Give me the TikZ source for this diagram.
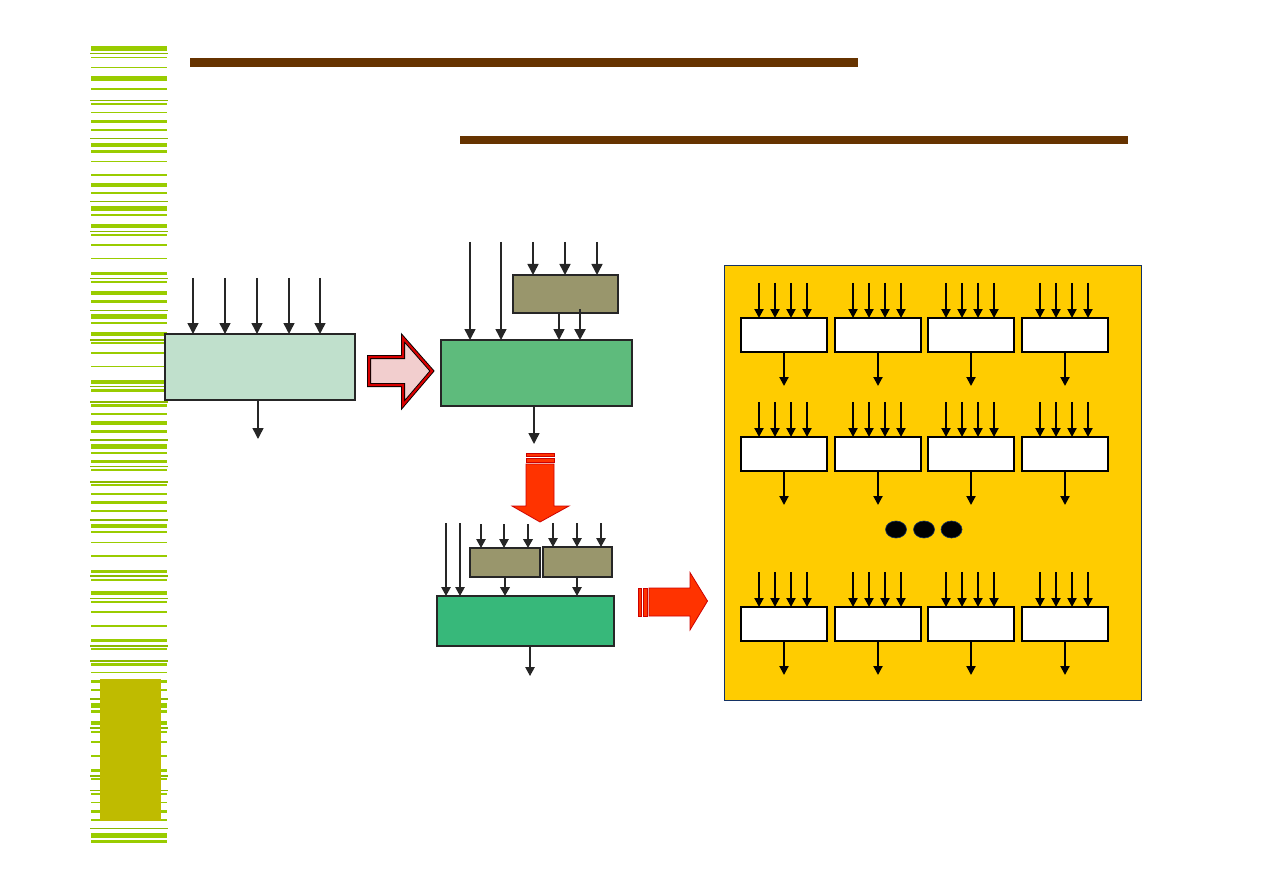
\documentclass[tikz,border=0pt]{standalone}
\usetikzlibrary{arrows.meta}

\definecolor{stripeGreen}{RGB}{153,204,0}
\definecolor{barOlive}{RGB}{191,187,0}
\definecolor{barBrown}{RGB}{102,51,0}
\definecolor{fillA}{RGB}{192,224,204}
\definecolor{fillB}{RGB}{94,187,124}
\definecolor{fillC}{RGB}{55,184,122}
\definecolor{khaki}{RGB}{153,150,108}
\definecolor{hotRed}{RGB}{255,51,0}
\definecolor{paleRed}{RGB}{242,206,206}
\definecolor{panelYellow}{RGB}{255,204,0}
\definecolor{panelBlue}{RGB}{20,50,100}

\tikzset{
  blk/.style={draw=black!85, line width=2pt, inner sep=0pt, outer sep=0pt, anchor=north west},
  cell/.style={draw=black, fill=white, line width=2.5pt, inner sep=0pt, outer sep=0pt, anchor=north west,
    minimum width=86pt, minimum height=34pt},
  arr/.style={-{Triangle[length=11pt,width=11pt]}, line width=1.5pt, draw=black!85},
  arrs/.style={-{Triangle[length=9pt,width=9.5pt]}, line width=1.2pt, draw=black!85},
  arry/.style={-{Triangle[length=9pt,width=9pt]}, line width=2pt, draw=black},
}

\begin{document}
\begin{tikzpicture}[x=1pt, y=-1pt]
    \useasboundingbox (0,0) rectangle (1263,893);

    % Side stripes
    \foreach \ya/\h in {46/5, 57/1.2, 67/1.2, 76/4.7, 88.3/1.5, 102.7/2, 112/1.2, 120/2.7, 129.3/1.5,
        143/3.7, 150/2.7, 161.3/1.2, 174.3/1.7, 183.3/3.4, 192.3/1.7, 206/4.7, 214/1.7, 224/3.7,
        234/2, 244/1.7, 258.3/1.2, 272/2.7, 281/1.7, 291/3.7, 300/2.7, 314/4.7, 322/1.7, 332/3.7,
        342/1.7, 352/1.7, 366/1.2, 380/3.7, 389.3/2.4, 404/2.7, 413/1.7, 421/3.7, 430.3/2.4,
        444/4.7, 452/1.7, 460/2.7, 469/1.7, 484/1.7, 493.3/1.2, 501/2.7, 510/1.7, 524/3.7,
        531/1.7, 542/1.2, 555.3/1.4, 570/3, 579/1.7, 591/3.7, 601/1.7, 611/1.7, 625.3/1.2,
        639/2.7, 648/1.7, 663/3, 672/1.2, 680/2.7, 689/1.7, 702.7/5.3, 710/2.7, 721/3.7,
        730.7/2, 740.7/2, 755.3/1.2, 769/2.7, 777.7/2, 792.7/2, 802/1.2, 810/2.7, 819/1.7,
        833/4.7, 840/2.7}
        \fill[stripeGreen] (91,\ya) rectangle (167,\ya+\h);
    \foreach \ya in {53.3, 100.3, 138.3, 201.3, 230.7, 278.3, 309.7, 339.3, 386, 401.3, 439.3,
        465.7, 481.3, 519.3, 575.3, 597.7, 645.3, 660.3, 698.3, 727.3, 775.3, 790, 828}
        \fill[stripeGreen!90!black] (90,\ya) rectangle (168,\ya+1.2);
    \fill[barOlive] (100,679) rectangle (161,821);

    % Title bars
    \fill[barBrown] (190,58) rectangle (858,67);
    \fill[barBrown] (460,136) rectangle (1128,144);

    % Block A
    \node[blk, fill=fillA, minimum width=190pt, minimum height=66pt] (blkA) at (165,334) {};
    \foreach \dx in {28,60,92,124,155}
        \draw[arr] ([xshift=\dx pt, yshift=56pt]blkA.north west) -- ([xshift=\dx pt]blkA.north west);
    \draw[arr] ([xshift=-2pt]blkA.south) -- ++(0,39);

    % Hollow arrow A -> B
    \path[fill=paleRed] (369,357) -- (403,357) -- (403,338) -- (432,371) -- (403,405) -- (403,385) -- (369,385) -- cycle;
    \draw[black, line width=4pt, line join=miter] (369,357) -- (403,357) -- (403,338) -- (432,371) -- (403,405) -- (403,385) -- (369,385) -- cycle;
    \draw[red!85!black, line width=2.2pt, line join=miter] (369,357) -- (403,357) -- (403,338) -- (432,371) -- (403,405) -- (403,385) -- (369,385) -- cycle;

    % Block B
    \node[blk, fill=fillB, minimum width=191pt, minimum height=66pt] (grnB) at (441,340) {};
    \node[blk, fill=khaki, minimum width=105pt, minimum height=38pt] (olvB) at (513,275) {};
    \foreach \dx in {29,60}
        \draw[arr] ([xshift=\dx pt, yshift=98pt]grnB.north west) -- ([xshift=\dx pt]grnB.north west);
    \foreach \dx in {20,52,84}
        \draw[arr] ([xshift=\dx pt, yshift=33pt]olvB.north west) -- ([xshift=\dx pt]olvB.north west);
    \draw[arr] ([xshift=46pt]olvB.south west) -- ([xshift=46pt]olvB.south west |- grnB.north);
    \draw[arr, line width=2.5pt] ([xshift=67pt, yshift=4pt]olvB.south west) -- ([xshift=67pt]olvB.south west |- grnB.north);
    \draw[arr] ([xshift=93pt]grnB.south west) -- ++(0,38);

    % Red arrow down
    \fill[hotRed, draw=red!80!black, line width=0.6pt] (526,453.5) rectangle (554,456);
    \fill[hotRed, draw=red!80!black, line width=0.6pt] (526,458.5) rectangle (554,462.5);
    \filldraw[fill=hotRed, draw=red!80!black, line width=0.8pt] (526,464) -- (554,464) -- (554,506) -- (569,506) -- (540,522) -- (512,506) -- (526,506) -- cycle;

    % Block C
    \node[blk, fill=fillC, line width=1.5pt, minimum width=177pt, minimum height=50pt] (grnC) at (437,596) {};
    \node[blk, fill=khaki, line width=1.5pt, minimum width=70pt, minimum height=29pt] (olvC1) at (470,548) {};
    \node[blk, fill=khaki, line width=1.5pt, minimum width=69pt, minimum height=30pt] (olvC2) at (543,547) {};
    \foreach \dx in {9,23}
        \draw[arrs] ([xshift=\dx pt, yshift=73pt]grnC.north west) -- ([xshift=\dx pt]grnC.north west);
    \foreach \dx in {11,34}
        \draw[arrs] ([xshift=\dx pt, yshift=24pt]olvC1.north west) -- ([xshift=\dx pt]olvC1.north west);
    \draw[arrs, line width=2.5pt] ([xshift=58pt, yshift=24pt]olvC1.north west) -- ([xshift=58pt]olvC1.north west);
    \foreach \dx in {10,34,58}
        \draw[arrs] ([xshift=\dx pt, yshift=24pt]olvC2.north west) -- ([xshift=\dx pt]olvC2.north west);
    \draw[arrs, line width=2.5pt] ([xshift=35pt]olvC1.south west) -- ([xshift=35pt]olvC1.south west |- grnC.north);
    \draw[arrs] ([xshift=34pt]olvC2.south west) -- ([xshift=34pt]olvC2.south west |- grnC.north);
    \draw[arrs] ([xshift=93pt]grnC.south west) -- ++(0,30);

    % Red arrow right
    \fill[hotRed, draw=red!80!black, line width=0.6pt] (638.5,588) rectangle (641.5,616);
    \fill[hotRed, draw=red!80!black, line width=0.6pt] (643.5,588) rectangle (647.3,616);
    \filldraw[fill=hotRed, draw=red!80!black, line width=0.8pt] (649,588) -- (690,588) -- (690,572.5) -- (707.5,601) -- (690,630) -- (690,616) -- (649,616) -- cycle;

    % Parallel panel
    \filldraw[fill=panelYellow, draw=panelBlue, line width=1pt] (724,266) rectangle (1141,700);
    \foreach \c/\xl in {1/741, 2/835, 3/928, 4/1022}
        \foreach \r/\yt in {1/318, 2/437, 3/607} {
            \node[cell] (cell-\c-\r) at (\xl,\yt) {};
            \foreach \dx in {18,34,50,66}
                \draw[arry] ([xshift=\dx pt, yshift=35pt]cell-\c-\r.north west) -- ([xshift=\dx pt]cell-\c-\r.north west);
            \draw[arry] (cell-\c-\r.south) -- ++(0,34);
        }
    \foreach \xc in {896, 924, 951.5}
        \filldraw[fill=black, draw=panelBlue, line width=0.6pt] (\xc,529.5) ellipse [x radius=10.5, y radius=8.5];
\end{tikzpicture}
\end{document}
